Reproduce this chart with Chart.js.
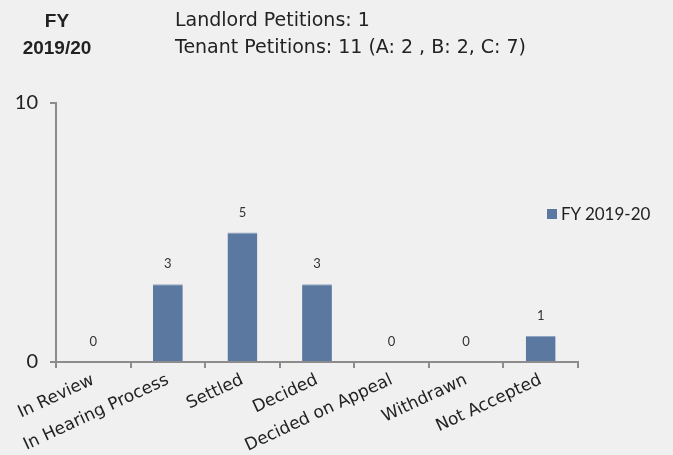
<!DOCTYPE html>
<html lang="en">
<head>
    <meta charset="UTF-8">
    <title>FY 2019/20 Petitions</title>
    <script src="https://cdn.jsdelivr.net/npm/chart.js"></script>
    <style>
        html, body { margin: 0; padding: 0; background: #f0f0f0; }
        #wrap { position: relative; width: 673px; height: 455px; }
        .hdr { position: absolute; color: #222; }
        #fy { left: 0; width: 114px; top: 7px; text-align: center; font: bold 19px "Liberation Sans", Arial, sans-serif; line-height: 27px; }
        #counts { left: 175px; top: 6px; font: 19px "DejaVu Sans", sans-serif; line-height: 27px; }
        #legend { position: absolute; left: 547px; top: 203px; font: 17px Lato, sans-serif; color: #222; }
        #legend span { display: inline-block; width: 10px; height: 10px; background: #5a78a0; margin-right: 4px; vertical-align: 1px; }
    </style>
</head>
<body>
<div id="wrap">
    <canvas id="chart" width="673" height="455"></canvas>
    <div class="hdr" id="fy">FY<br>2019/20</div>
    <div class="hdr" id="counts">Landlord Petitions: 1<br>Tenant Petitions: 11 (A: 2 , B: 2, C: 7)</div>
    <div id="legend"><span></span>FY 2019-20</div>
</div>

<script>
    // chart data
    const categories = ['In Review', 'In Hearing Process', 'Settled', 'Decided', 'Decided on Appeal', 'Withdrawn', 'Not Accepted'];
    const counts = [0, 3, 5, 3, 0, 0, 1];
    const yTicks = [0, 10];

    // value labels above each bar
    const valueLabels = {
        id: 'valueLabels',
        afterDatasetsDraw(chart) {
            const ctx = chart.ctx;
            const meta = chart.getDatasetMeta(0);
            ctx.save();
            ctx.font = '13px Lato, sans-serif';
            ctx.fillStyle = '#333';
            ctx.textAlign = 'center';
            ctx.textBaseline = 'middle';
            meta.data.forEach((bar, i) => {
                ctx.fillText(String(counts[i]), bar.x, bar.y - 20);
            });
            ctx.restore();
        }
    };

    new Chart(document.getElementById('chart').getContext('2d'), {
        type: 'bar',
        data: {
            labels: categories,
            datasets: [{
                label: 'FY 2019-20',
                data: counts,
                backgroundColor: '#5a78a0',
                borderColor: '#8fa5c2',
                borderWidth: { top: 1, left: 0, right: 0, bottom: 0 },
                categoryPercentage: 1,
                barPercentage: 0.4
            }]
        },
        options: {
            responsive: false,
            animation: false,
            layout: { padding: { top: 103, right: 95, left: 0, bottom: 0 } },
            plugins: {
                legend: { display: false },
                tooltip: { enabled: false }
            },
            scales: {
                x: {
                    grid: { display: true, drawOnChartArea: false, offset: true, color: '#8c8c8c', lineWidth: 2, tickLength: 6 },
                    border: { color: '#8c8c8c', width: 2 },
                    ticks: {
                        color: '#222',
                        font: { family: 'DejaVu Sans', size: 17 },
                        maxRotation: 25,
                        minRotation: 25,
                        autoSkip: false,
                        padding: 2
                    },
                    afterFit: (s) => { s.height = 93; }
                },
                y: {
                    min: 0,
                    max: 10,
                    afterBuildTicks: (s) => { s.ticks = yTicks.map(v => ({ value: v })); },
                    grid: { display: true, drawOnChartArea: false, color: '#8c8c8c', lineWidth: 2, tickLength: 6 },
                    border: { color: '#8c8c8c', width: 2 },
                    ticks: {
                        color: '#222',
                        font: { family: 'Lato', size: 20 },
                        padding: 12
                    },
                    afterFit: (s) => { s.width = 56; }
                }
            }
        },
        plugins: [valueLabels]
    });
</script>
</body>
</html>
